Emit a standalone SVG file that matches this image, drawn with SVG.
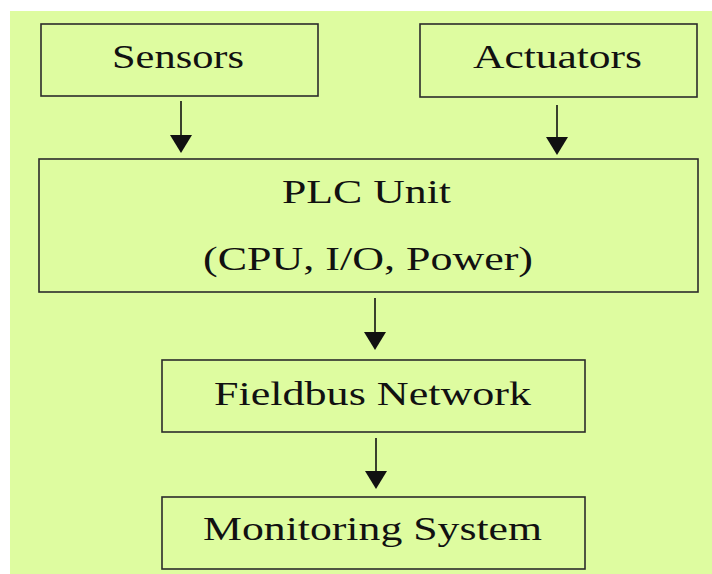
<svg xmlns="http://www.w3.org/2000/svg" width="712" height="574" viewBox="0 0 712 574">
  <style>
    .box { fill: none; stroke: #2b2b2b; stroke-width: 1.6; }
    .lbl { font-family: "Liberation Serif", "Times New Roman", serif; font-size: 33px; fill: #111; }
    .conn { stroke: #111; stroke-width: 1.6; fill: none; }
  </style>
  <defs>
    <marker id="arrow" markerUnits="userSpaceOnUse" markerWidth="18" markerHeight="22" refX="0" refY="11" orient="auto">
      <path d="M0,0 L18,11 L0,22 Z" fill="#111"/>
    </marker>
  </defs>
  <rect x="0" y="0" width="712" height="574" fill="#ffffff"/>
  <rect x="10" y="11" width="702" height="563" fill="#DEFCA0"/>

  <g id="sensors">
    <rect class="box" x="41" y="24" width="277" height="72"/>
    <text class="lbl" x="112" y="68" textLength="132" lengthAdjust="spacingAndGlyphs">Sensors</text>
  </g>
  <g id="actuators">
    <rect class="box" x="420" y="24" width="277" height="73"/>
    <text class="lbl" x="473" y="68" textLength="169" lengthAdjust="spacingAndGlyphs">Actuators</text>
  </g>
  <g id="plc">
    <rect class="box" x="39" y="159" width="659" height="133"/>
    <text class="lbl" x="282" y="203" textLength="169" lengthAdjust="spacingAndGlyphs">PLC Unit</text>
    <text class="lbl" x="203" y="270" textLength="330" lengthAdjust="spacingAndGlyphs">(CPU, I/O, Power)</text>
  </g>
  <g id="fieldbus">
    <rect class="box" x="162" y="360" width="423" height="72"/>
    <text class="lbl" x="214" y="405" textLength="317" lengthAdjust="spacingAndGlyphs">Fieldbus Network</text>
  </g>
  <g id="monitoring">
    <rect class="box" x="162" y="497" width="423" height="72"/>
    <text class="lbl" x="203" y="540" textLength="339" lengthAdjust="spacingAndGlyphs">Monitoring System</text>
  </g>

  <g id="connectors">
    <line class="conn" x1="181" y1="101" x2="181" y2="135" marker-end="url(#arrow)"/>
    <line class="conn" x1="557" y1="105" x2="557" y2="137" marker-end="url(#arrow)"/>
    <line class="conn" x1="375" y1="298" x2="375" y2="332" marker-end="url(#arrow)"/>
    <line class="conn" x1="376" y1="438" x2="376" y2="471" marker-end="url(#arrow)"/>
  </g>
</svg>
